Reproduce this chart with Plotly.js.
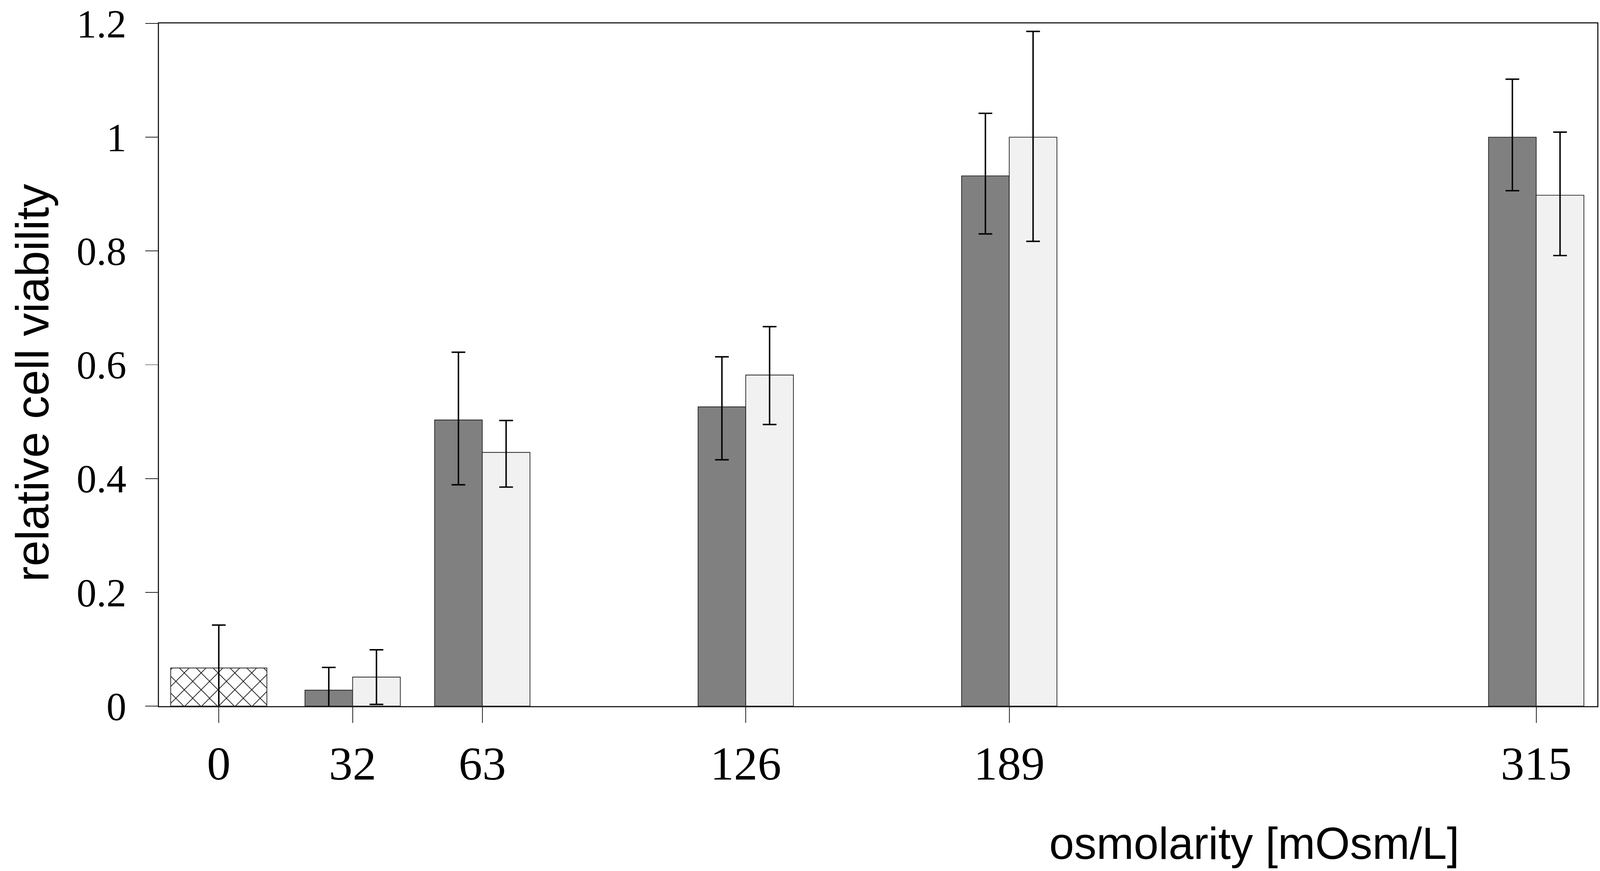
<!DOCTYPE html>
<html>
<head>
<meta charset="utf-8">
<script src="https://cdn.plot.ly/plotly-3.0.1.min.js"></script>
<style>
  html, body { margin: 0; padding: 0; background: #fff; overflow: hidden; }
  #chart { width: 100vw; height: 100vh; }
</style>
</head>
<body>
<div id="chart"></div>
<script>
  // osmolarity groups (mOsm/L)
  var osm = [32, 63, 126, 189, 315];
  var tickVals = [0, 32, 63, 126, 189, 315];
  var tickText = ["0", "32", "63", "126", "189", "315"];
  var yTickVals = [0, 0.2, 0.4, 0.6, 0.8, 1, 1.2];
  var yTickText = ["0", "0.2", "0.4", "0.6", "0.8", "1", "1.2"];

  // control at 0 mOsm/L (hatched bar)
  var ctrlX = [0];
  var ctrlY = [0.067];
  var ctrlErr = [0.0755];

  // dark series
  var darkY = [0.028, 0.503, 0.526, 0.932, 1.0];
  var darkErrPlus = [0.040, 0.119, 0.088, 0.110, 0.102];
  var darkErrMinus = [0.040, 0.114, 0.093, 0.102, 0.094];

  // light series
  var lightY = [0.051, 0.446, 0.582, 1.0, 0.898];
  var lightErrPlus = [0.048, 0.056, 0.085, 0.186, 0.111];
  var lightErrMinus = [0.048, 0.061, 0.087, 0.183, 0.106];

  // laid out for a 4428 x 2229 page, scaled to whatever the viewport is
  var W = window.innerWidth, H = window.innerHeight;
  var k = W / 4428;
  var ky = H / 2229;
  var fk = (k + ky) / 2;   // font scale

  var barW = 11.4;
  var edge = { color: "#222", width: 2 * k };
  var errStyle = function (plus, minus) {
    return {
      type: "data", symmetric: false, array: plus, arrayminus: minus,
      color: "#000", thickness: 4 * k, width: 19 * k
    };
  };

  var traces = [
    {
      type: "bar", x: ctrlX, y: ctrlY, width: 23, offset: -11.5,
      marker: {
        color: "#fff", line: edge,
        pattern: { shape: "x", size: 33 * k, solidity: 0.1, fgcolor: "#000", bgcolor: "#fff" }
      },
      error_y: { type: "data", array: ctrlErr, color: "#000", thickness: 4 * k, width: 19 * k }
    },
    {
      type: "bar", x: osm, y: darkY, width: barW, offset: -barW,
      marker: { color: "#808080", line: edge },
      error_y: errStyle(darkErrPlus, darkErrMinus)
    },
    {
      type: "bar", x: osm, y: lightY, width: barW, offset: 0,
      marker: { color: "#f1f1f1", line: edge },
      error_y: errStyle(lightErrPlus, lightErrMinus)
    }
  ];

  var serif = "Liberation Serif, Times New Roman, serif";
  var sans = "Liberation Sans, Arial, sans-serif";

  var layout = {
    width: W,
    height: H,
    margin: { l: 440 * k, r: 8 * k, t: 60 * ky, b: 422 * ky, pad: 0 },
    paper_bgcolor: "#fff",
    plot_bgcolor: "#fff",
    showlegend: false,
    barmode: "overlay",
    xaxis: {
      range: [-14.3, 329.6],
      tickvals: tickVals,
      ticktext: tickText,
      ticks: "outside",
      ticklen: 40 * ky,
      tickwidth: 2 * k,
      tickcolor: "#222",
      showgrid: false,
      zeroline: false,
      showline: true,
      linecolor: "#222",
      linewidth: 3 * k,
      mirror: true,
      ticklabeloverflow: "allow",
      ticklabelstandoff: 0,
      tickfont: { family: serif, size: 126 * fk, color: "#000" }
    },
    yaxis: {
      range: [0, 1.2],
      tickvals: yTickVals,
      ticktext: yTickText,
      ticks: "outside",
      ticklen: 35 * k,
      tickwidth: 2 * k,
      tickcolor: "#222",
      showgrid: false,
      zeroline: false,
      showline: true,
      linecolor: "#222",
      linewidth: 3 * k,
      mirror: true,
      ticklabeloverflow: "allow",
      ticklabelstandoff: Math.round(30 * k),
      tickfont: { family: serif, size: 106 * fk, color: "#000" }
    },
    annotations: [
      {
        text: "relative cell viability", xref: "paper", yref: "paper",
        x: -0.088, y: 0.474, xanchor: "center", yanchor: "middle",
        textangle: -90, showarrow: false,
        font: { family: sans, size: 119 * ky, color: "#000" }
      },
      {
        text: "osmolarity [mOsm/L]", xref: "paper", yref: "paper",
        x: 0.7616, y: -0.2007, xanchor: "center", yanchor: "middle",
        showarrow: false,
        font: { family: sans, size: 119 * fk, color: "#000" }
      }
    ]
  };

  Plotly.newPlot("chart", traces, layout, { staticPlot: true, displayModeBar: false });
</script>
</body>
</html>
